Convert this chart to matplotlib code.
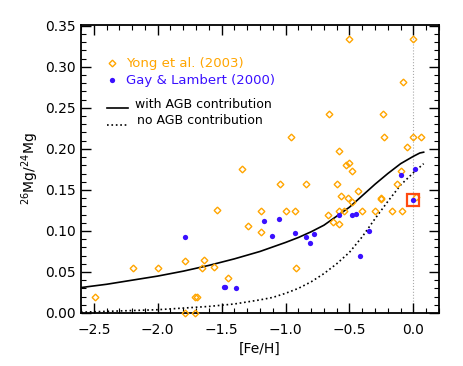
import numpy as np
import matplotlib
matplotlib.use("Agg")
import matplotlib.pyplot as plt

# Yong et al. (2003)
yong_feh = [-2.49, -2.19, -2.00, -1.79, -1.64, -1.65, -1.71, -1.69, -1.79, -1.71,
            -1.34, -1.04, -0.84, -1.54, -1.19, -1.00, -0.93, -0.67, -1.29, -1.19,
            -1.56, -0.92, -1.45, -0.50, 0.00, -0.08, -0.66, -0.24, -0.23, 0.00,
            0.06, -0.05, -0.58, -0.96, -0.53, -0.50, -0.48, -0.60, -0.43, -0.57,
            -0.51, -0.48, -0.25, -0.25, -0.10, -0.13, -0.58, -0.54, -0.40, -0.30,
            -0.17, -0.09, -0.63, -0.58, 0.02]
yong_ratio = [0.020, 0.055, 0.055, 0.063, 0.065, 0.055, 0.020, 0.020, 0.000, 0.000,
              0.175, 0.157, 0.157, 0.126, 0.124, 0.124, 0.124, 0.120, 0.106, 0.099,
              0.056, 0.055, 0.043, 0.334, 0.334, 0.281, 0.242, 0.242, 0.214, 0.214,
              0.214, 0.202, 0.197, 0.214, 0.180, 0.183, 0.173, 0.157, 0.149, 0.142,
              0.140, 0.135, 0.140, 0.139, 0.173, 0.157, 0.124, 0.124, 0.124, 0.124,
              0.124, 0.124, 0.111, 0.108, 0.141]

# Gay & Lambert (2000)
gay_feh = [-1.79, -1.17, -1.05, -1.11, -0.93, -0.84, -0.78, -0.81, -1.48, -1.47,
           -1.39, -0.58, -0.48, -0.45, -0.35, -0.42, -0.10, 0.01, 0.00]
gay_ratio = [0.093, 0.112, 0.115, 0.094, 0.097, 0.093, 0.096, 0.085, 0.032, 0.032,
             0.031, 0.119, 0.119, 0.121, 0.100, 0.070, 0.168, 0.175, 0.138]

# highlighted star
sun_feh = [0.0]
sun_ratio = [0.138]

# model with AGB contribution
agb_feh = [-2.6, -2.4, -2.2, -2.0, -1.8, -1.6, -1.4, -1.2, -1.0, -0.9, -0.8, -0.7,
           -0.6, -0.5, -0.4, -0.3, -0.2, -0.1, 0.0, 0.05, 0.08]
agb_ratio = [0.031, 0.035, 0.040, 0.045, 0.051, 0.058, 0.066, 0.075, 0.086, 0.092, 0.099, 0.107,
             0.118, 0.129, 0.143, 0.157, 0.170, 0.182, 0.191, 0.195, 0.196]

# model without AGB contribution
noagb_feh = [-2.6, -2.4, -2.2, -2.0, -1.8, -1.6, -1.4, -1.2, -1.1, -1.0, -0.9, -0.8, -0.7,
             -0.6, -0.5, -0.4, -0.3, -0.2, -0.1, 0.0, 0.08]
noagb_ratio = [0.001, 0.002, 0.003, 0.004, 0.006, 0.008, 0.011, 0.016, 0.019, 0.024, 0.030, 0.038, 0.048,
               0.060, 0.074, 0.093, 0.115, 0.136, 0.156, 0.171, 0.182]

orange = '#ffa500'
blue = '#3a10ff'

fig = plt.figure(figsize=(4.63, 3.66), dpi=100)
ax = fig.add_axes([81/463, 1-313/366, 358/463, 288/366])

ax.axvline(0.0, color='#aaaaaa', lw=0.8, ls=':', zorder=1)
ax.plot(agb_feh, agb_ratio, '-', color='k', lw=1.2, zorder=2)
ax.plot(noagb_feh, noagb_ratio, ':', color='k', lw=1.2, zorder=2)

ax.plot(yong_feh, yong_ratio, 'D', ms=3.4, mfc='none', mec=orange, mew=1.0,
        clip_on=False, zorder=3)
ax.plot(gay_feh, gay_ratio, 'o', ms=3.8, mfc=blue, mec=blue, mew=0,
        clip_on=False, zorder=4)
ax.plot(sun_feh, sun_ratio, 's', ms=8.5, mfc='none', mec='#ff4a10', mew=1.6,
        zorder=5)

ax.set_xlim(-2.6, 0.2)
ax.set_ylim(0.0, 0.351)
ax.set_xticks([-2.5, -2.0, -1.5, -1.0, -0.5, 0.0])
ax.set_xticklabels(['\u22122.5', '\u22122.0', '\u22121.5', '\u22121.0', '\u22120.5', '0.0'])
ax.set_xticks(np.arange(-2.6, 0.21, 0.1), minor=True)
ax.set_yticks(np.arange(0, 0.351, 0.05))
ax.set_yticklabels(['%.2f' % v for v in np.arange(0, 0.351, 0.05)])
ax.set_yticks(np.arange(0, 0.351, 0.01), minor=True)
ax.tick_params(which='both', direction='in', top=True, right=True, labelsize=10)
ax.tick_params(which='major', length=7, width=1.0)
ax.tick_params(which='minor', length=3.5, width=0.8)
ax.tick_params(axis='x', pad=7)
ax.tick_params(axis='y', pad=4)
for s in ax.spines.values():
    s.set_linewidth(1.3)

ax.set_xlabel('[Fe/H]', fontsize=10, labelpad=4)
ax.set_ylabel('$^{26}$Mg/$^{24}$Mg', fontsize=10, labelpad=3)

# legend drawn by hand
def ax_pt(px, py):
    return ((px - 81) / 358, (313 - py) / 288)

tr = ax.transAxes
ax.plot(*ax_pt(111.7, 63.3), 'D', ms=3.4, mfc='none', mec=orange, mew=1.0, transform=tr)
ax.text(*ax_pt(126, 63), 'Yong et al. (2003)', color=orange, fontsize=9.5,
        va='center', ha='left', transform=tr)
ax.plot(*ax_pt(111.7, 80.3), 'o', ms=3.8, mfc=blue, mec=blue, mew=0, transform=tr)
ax.text(*ax_pt(126, 80.3), 'Gay & Lambert (2000)', color=blue, fontsize=9.5,
        va='center', ha='left', transform=tr)
x0, y0 = ax_pt(106.7, 107.5)
x1, _ = ax_pt(128.3, 107.5)
ax.plot([x0, x1], [y0, y0], '-', color='k', lw=1.2, transform=tr)
ax.text(*ax_pt(135, 104.5), 'with AGB contribution', color='k', fontsize=9,
        va='center', ha='left', transform=tr)
x0, y0 = ax_pt(106.7, 124.5)
ax.plot([x0, x1], [y0, y0], ':', color='k', lw=1.2, transform=tr)
ax.text(*ax_pt(137, 121), 'no AGB contribution', color='k', fontsize=9,
        va='center', ha='left', transform=tr)

fig.savefig('out.png', dpi=100)
